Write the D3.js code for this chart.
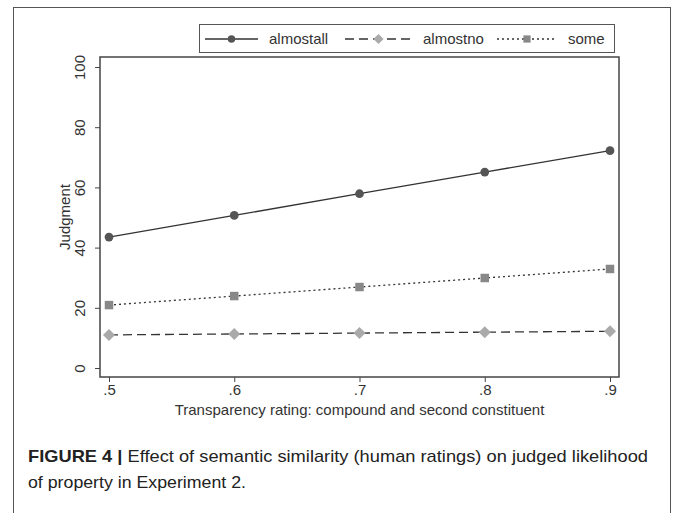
<!DOCTYPE html>
<html><head><meta charset="utf-8">
<script src="https://cdn.jsdelivr.net/npm/d3@7"></script>
<style>body{margin:0;background:#fff;} svg{display:block;font-family:"Liberation Sans",Arial,sans-serif;}</style>
</head><body>
<script>
const xValues = [0.5, 0.6, 0.7, 0.8, 0.9];
const xTickLabels = [".5", ".6", ".7", ".8", ".9"];
const yTicks = [0, 20, 40, 60, 80, 100];
const seriesNames = ["almostall", "almostno", "some"];
const almostall = [43.5, 50.7, 57.9, 65.1, 72.2];
const almostno = [11.0, 11.3, 11.6, 11.9, 12.2];
const some = [20.9, 23.9, 26.9, 29.9, 32.9];
const xTitle = "Transparency rating: compound and second constituent";
const yTitle = "Judgment";
const captionBold = "FIGURE 4 | ";
const captionLine1 = "Effect of semantic similarity (human ratings) on judged likelihood";
const captionLine2 = "of property in Experiment 2.";

const W = 675, H = 513;
const svg = d3.select("body").append("svg").attr("width", W).attr("height", H);

// outer frame
svg.append("rect").attr("x", 13.5).attr("y", 7.5).attr("width", 657).attr("height", 520)
  .attr("fill", "none").attr("stroke", "#555").attr("stroke-width", 1);

const plot = {left: 100, right: 619, top: 57, bottom: 377};
const x = d3.scaleLinear().domain([0.5, 0.9]).range([109, 610]);
const y = d3.scaleLinear().domain([0, 100]).range([368, 67]);

// plot frame
svg.append("rect").attr("x", plot.left).attr("y", plot.top)
  .attr("width", plot.right - plot.left).attr("height", plot.bottom - plot.top)
  .attr("fill", "#fff").attr("stroke", "#444").attr("stroke-width", 1.5);

const FS = 15;
// y axis
const yAxis = d3.axisLeft(y).tickValues(yTicks).tickSize(5);
const gy = svg.append("g").attr("transform", `translate(${plot.left},0)`).call(yAxis);
gy.select(".domain").remove();
gy.selectAll(".tick line").attr("stroke", "#444");
gy.selectAll(".tick text").attr("font-size", FS).attr("fill", "#333")
  .attr("text-anchor", "middle").attr("x", 0).attr("y", 0)
  .attr("transform", `translate(-15,0) rotate(-90)`).attr("dy", "0");

// x axis
const xAxis = d3.axisBottom(x).tickValues(xValues).tickFormat((d,i)=>xTickLabels[i]).tickSize(5).tickPadding(2);
const gx = svg.append("g").attr("transform", `translate(0,${plot.bottom})`).call(xAxis);
gx.select(".domain").remove();
gx.selectAll(".tick line").attr("stroke", "#444");
gx.selectAll(".tick text").attr("font-size", FS).attr("fill", "#333");

// titles
svg.append("text").attr("x", (plot.left + plot.right)/2).attr("y", 415)
  .attr("text-anchor", "middle").attr("font-size", FS).attr("fill", "#333").text(xTitle);
svg.append("text").attr("transform", `translate(70,${(plot.top+plot.bottom)/2}) rotate(-90)`)
  .attr("text-anchor", "middle").attr("font-size", FS).attr("fill", "#333").text(yTitle);

const styles = {
  almostall: {dash: null, marker: "circle", color: "#555"},
  almostno: {dash: "9,5", marker: "diamond", color: "#aaa"},
  some: {dash: "2,3", marker: "square", color: "#888"}
};
const seriesData = {almostall, almostno, some};
function markerPath(m, s) {
  if (m === "circle") return d3.symbol().type(d3.symbolCircle).size(60 * s * s)();
  if (m === "square") return d3.symbol().type(d3.symbolSquare).size(72 * s * s)();
  const r = 6 * s; // diamond half-diagonal
  return `M0,${-r}L${r},0L0,${r}L${-r},0Z`;
}

const line = d3.line().x((d,i)=>x(xValues[i])).y(d=>y(d));
seriesNames.forEach(name => {
  const st = styles[name];
  svg.append("path").datum(seriesData[name]).attr("d", line)
    .attr("fill", "none").attr("stroke", "#333").attr("stroke-width", 1.3)
    .attr("stroke-dasharray", st.dash);
  svg.selectAll(null).data(seriesData[name]).enter().append("path")
    .attr("d", markerPath(st.marker, 1))
    .attr("transform", (d,i)=>`translate(${x(xValues[i])},${y(d)})`)
    .attr("fill", st.color);
});

// legend
const lg = svg.append("g");
lg.append("rect").attr("x", 199.5).attr("y", 24.5).attr("width", 415).attr("height", 28)
  .attr("fill", "#fff").attr("stroke", "#555").attr("stroke-width", 1);
const legendX = [205, 345, 497];
const legendW = [53, 67, 60];
seriesNames.forEach((name, i) => {
  const st = styles[name];
  const x0 = legendX[i], x1 = x0 + legendW[i], ly = 39;
  lg.append("line").attr("x1", x0).attr("x2", x1).attr("y1", ly).attr("y2", ly)
    .attr("stroke", "#333").attr("stroke-width", 1.3).attr("stroke-dasharray", st.dash);
  lg.append("path").attr("d", markerPath(st.marker, 0.85))
    .attr("transform", `translate(${(x0+x1)/2},${ly})`).attr("fill", st.color);
  lg.append("text").attr("x", x1 + 11).attr("y", ly).attr("dy", "0.35em")
    .attr("font-size", FS).attr("fill", "#333").text(name);
});

// caption
const cap = svg.append("text").attr("x", 28).attr("y", 462).attr("font-size", 17).attr("fill", "#222")
  .attr("textLength", 620).attr("lengthAdjust", "spacingAndGlyphs");
cap.append("tspan").attr("font-weight", "bold").text(captionBold);
cap.append("tspan").text(captionLine1);
svg.append("text").attr("x", 28).attr("y", 488).attr("font-size", 17).attr("fill", "#222")
  .attr("textLength", 218).attr("lengthAdjust", "spacingAndGlyphs").text(captionLine2);
</script>
</body></html>
